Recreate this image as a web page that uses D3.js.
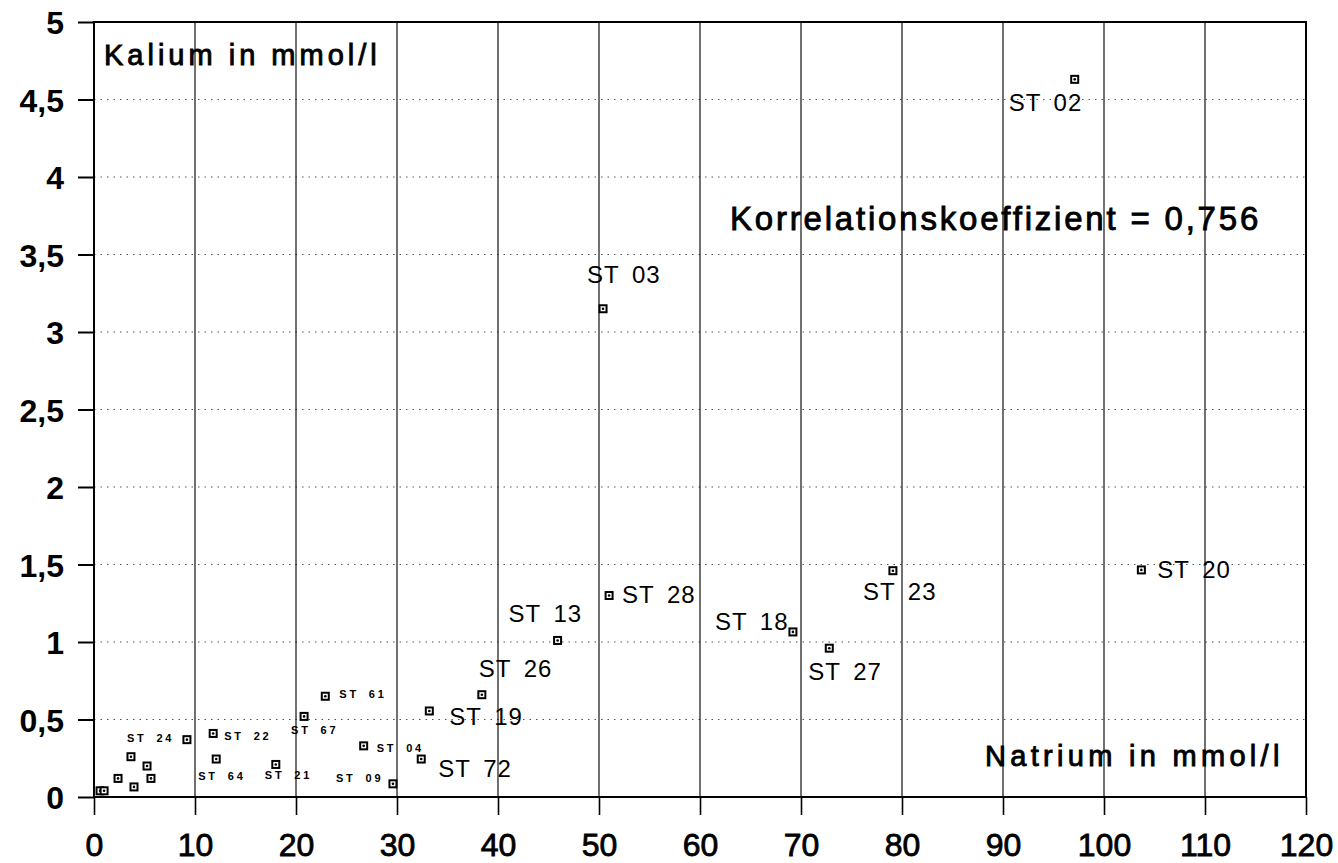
<!DOCTYPE html>
<html>
<head>
<meta charset="utf-8">
<script src="https://cdn.jsdelivr.net/npm/d3@7/dist/d3.min.js"></script>
<style>
  body { margin: 0; background: #fff; }
  svg { display: block; font-family: "Liberation Sans", Arial, Helvetica, sans-serif; }
</style>
</head>
<body>
<svg id="chart" width="1338" height="863"></svg>
<script>
// Sample data: Natrium (x) vs Kalium (y), mmol/l
const stations = ['ST 02', 'ST 03', 'ST 28', 'ST 13', 'ST 18', 'ST 27', 'ST 23', 'ST 20',
                  'ST 26', 'ST 19', 'ST 72', 'ST 61', 'ST 24', 'ST 22', 'ST 67', 'ST 04',
                  'ST 64', 'ST 21', 'ST 09', '', '', '', '', '', '', ''];
const natrium = [97.1, 50.4, 51.0, 45.9, 69.2, 72.8, 79.1, 103.7,
                 38.4, 33.2, 32.4, 22.9, 9.2, 11.8, 20.8, 26.7,
                 12.1, 18.0, 29.6, 3.66, 5.25, 2.38, 5.64, 3.96, 0.6, 1.0];
const kalium = [4.63, 3.15, 1.30, 1.01, 1.065, 0.96, 1.46, 1.465,
                0.66, 0.555, 0.245, 0.65, 0.37, 0.41, 0.52, 0.33,
                0.245, 0.21, 0.085, 0.26, 0.20, 0.12, 0.12, 0.065, 0.04, 0.04];
const bigLabels = ['ST 02', 'ST 03', 'ST 28', 'ST 13', 'ST 18', 'ST 27', 'ST 23', 'ST 20',
                   'ST 26', 'ST 19', 'ST 72'];
const xTicks = [0, 10, 20, 30, 40, 50, 60, 70, 80, 90, 100, 110, 120];
const yTicks = [0, 0.5, 1, 1.5, 2, 2.5, 3, 3.5, 4, 4.5, 5];
const correlation = '0,756';

// label placement, pixel offset from the marker
const labelOffset = {
  'ST 02': [-66, 32], 'ST 03': [-16, -26], 'ST 28': [13, 7], 'ST 13': [-49, -18],
  'ST 18': [-78, -2], 'ST 27': [-21, 32], 'ST 23': [-30, 29], 'ST 20': [16, 8],
  'ST 26': [-3, -18], 'ST 19': [20, 14], 'ST 72': [17, 18],
  'ST 61': [14, 2], 'ST 24': [-60, 2], 'ST 22': [11, 7], 'ST 67': [-13, 18],
  'ST 04': [13, 6], 'ST 64': [-18, 21], 'ST 21': [-11, 15], 'ST 09': [-57, -2]
};

const points = stations.map((name, i) => ({name, na: natrium[i], k: kalium[i]}));

const svg = d3.select('#chart');
const plot = {left: 94, right: 1306, top: 22, bottom: 797};

const x = d3.scaleLinear().domain([0, 120]).range([plot.left, plot.right]);
const y = d3.scaleLinear().domain([0, 5]).range([plot.bottom, plot.top]);

const fmt = d => String(d).replace('.', ',');

// ===============================================================
// Grid
const grid = svg.append('g').attr('id', 'grid');

grid.selectAll('line.h')
  .data(yTicks.filter(d => d > 0 && d < 5))
  .enter().append('line')
  .attr('class', 'h')
  .attr('x1', plot.left).attr('x2', plot.right)
  .attr('y1', d => y(d)).attr('y2', d => y(d))
  .attr('stroke', '#555')
  .attr('stroke-width', 1)
  .attr('stroke-dasharray', '1.5,5');

grid.selectAll('line.v')
  .data(xTicks.filter(d => d > 0 && d < 120))
  .enter().append('line')
  .attr('class', 'v')
  .attr('x1', d => x(d)).attr('x2', d => x(d))
  .attr('y1', plot.top).attr('y2', plot.bottom)
  .attr('stroke', '#111')
  .attr('stroke-width', 1.2);

// Frame
svg.append('rect')
  .attr('x', plot.left).attr('y', plot.top)
  .attr('width', plot.right - plot.left).attr('height', plot.bottom - plot.top)
  .attr('fill', 'none')
  .attr('stroke', '#000')
  .attr('stroke-width', 2);

// ===============================================================
// Axes
svg.append('g')
  .attr('transform', `translate(${plot.left},0)`)
  .call(d3.axisLeft(y).tickValues(yTicks).tickSize(16).tickFormat(fmt))
  .call(g => g.select('.domain').remove())
  .call(g => g.selectAll('.tick line').attr('stroke', '#000').attr('stroke-width', 2))
  .call(g => g.selectAll('.tick text')
    .attr('x', -30)
    .attr('dy', '0.37em')
    .attr('fill', '#000')
    .style('font-size', '32px')
    .style('font-weight', 'bold')
    .style('font-family', '"Liberation Sans", Arial, sans-serif'));

svg.append('g')
  .attr('transform', `translate(0,${plot.bottom})`)
  .call(d3.axisBottom(x).tickValues(xTicks).tickSize(18))
  .call(g => g.select('.domain').remove())
  .call(g => g.selectAll('.tick line').attr('stroke', '#000').attr('stroke-width', 1.6))
  .call(g => g.selectAll('.tick text')
    .attr('y', 59)
    .attr('dy', null)
    .attr('fill', '#000')
    .style('font-size', '32px')
    .style('font-family', '"Liberation Sans", Arial, sans-serif')
    .style('stroke', '#000')
    .style('stroke-width', 0.8));

// ===============================================================
// Markers
const marks = svg.append('g').attr('id', 'points')
  .selectAll('g')
  .data(points)
  .enter().append('g')
  .attr('transform', d => `translate(${x(d.na)},${y(d.k)})`);

marks.append('rect')
  .attr('x', -3.5).attr('y', -3.5)
  .attr('width', 7).attr('height', 7)
  .attr('fill', '#fff')
  .attr('stroke', '#000')
  .attr('stroke-width', 2);

marks.append('circle')
  .attr('r', 1.3)
  .attr('fill', '#000');

// Labels
svg.append('g').attr('id', 'labels')
  .selectAll('text')
  .data(points.filter(d => d.name))
  .enter().append('text')
  .attr('x', d => x(d.na) + labelOffset[d.name][0])
  .attr('y', d => y(d.k) + labelOffset[d.name][1])
  .attr('fill', '#000')
  .each(function(d) {
    const big = bigLabels.includes(d.name);
    d3.select(this)
      .style('font-size', big ? '24px' : '11px')
      .style('font-weight', big ? 'normal' : 'bold')
      .style('letter-spacing', big ? '1px' : '2.8px')
      .style('word-spacing', big ? '5px' : '4px');
  })
  .text(d => d.name);

// ===============================================================
// Annotations
const notes = svg.append('g').attr('id', 'notes')
  .attr('fill', '#000')
  .style('stroke', '#000')
  .style('stroke-width', 0.9);

notes.append('text')
  .attr('x', 104).attr('y', 65)
  .style('font-size', '29px')
  .style('letter-spacing', '4px')
  .text('Kalium in mmol/l');

notes.append('text')
  .attr('x', 730).attr('y', 230)
  .style('font-size', '33px')
  .style('letter-spacing', '2.8px')
  .text(`Korrelationskoeffizient = ${correlation}`);

notes.append('text')
  .attr('x', 985).attr('y', 766)
  .style('font-size', '29px')
  .style('letter-spacing', '4.3px')
  .text('Natrium in mmol/l');
</script>
</body>
</html>
